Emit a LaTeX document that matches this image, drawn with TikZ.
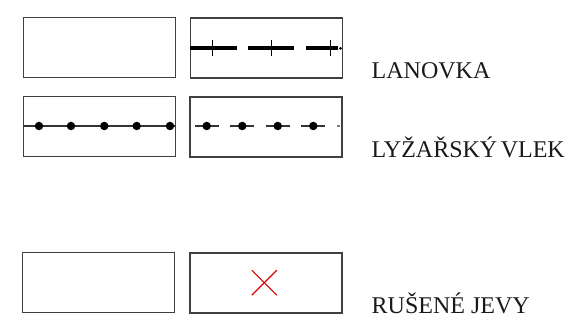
\documentclass[tikz,border=0pt]{standalone}
\usepackage{fontspec}
\setmainfont{Liberation Serif}
\usetikzlibrary{calc}
\begin{document}
\begin{tikzpicture}[x=1pt,y=-1pt,
  legbox/.style={draw=black!75, line width=1.4pt, rectangle, minimum width=152pt, minimum height=60pt, inner sep=0pt, anchor=north west},
  lab/.style={anchor=base west, inner sep=0pt, font=\fontsize{24}{24}\selectfont, text=black!90},
  dot/.style={circle, fill=black, inner sep=0pt, minimum size=8.5pt},
  cablethick/.style={line width=4pt, black},
  tick/.style={line width=1pt, black},
  thinline/.style={line width=1.2pt, black!80},
  cross/.style={draw=red!85!black, line width=1.2pt}]
\useasboundingbox (0,0) rectangle (570,320);
% boxes
\node[legbox] (b1) at (22.7,16.9) {};
\node[legbox] (b2) at (189.5,17.3) {};
\node[legbox] (b3) at (22.7,95.9) {};
\node[legbox] (b4) at (189.3,96.3) {};
\node[legbox] (b5) at (21.7,251.9) {};
\node[legbox] (b6) at (189.2,252.3) {};
% cableway
\coordinate (c1a) at (190,48.3); \coordinate (c1b) at (236.7,48.3);
\coordinate (c2a) at (248,48.3); \coordinate (c2b) at (294,48.3);
\coordinate (c3a) at (306,48.3); \coordinate (c3b) at (338,48.3);
\draw[cablethick] (c1a) -- (c1b);
\draw[cablethick] (c2a) -- (c2b);
\draw[cablethick] (c3a) -- (c3b);
\fill (340.5,48.3) circle (1.5pt);
\foreach \x in {212.7,271,330}{\draw[tick] (\x,40.5) -- (\x,56);}
% ski lift
\draw[thinline] (b3.west |- 0,126) -- (b3.east |- 0,126);
\foreach \x [count=\i] in {39,71,104.3,136.7,170}{\node[dot] (d\i) at (\x,126) {};}
\foreach \x [count=\i] in {206.7,242.3,277.7,313.3}{
  \draw[thinline] (\x-12,126) -- (\x+12,126);
  \node[dot] (e\i) at (\x,126) {};}
\draw[thinline, black!50] (337,126) -- (339.5,126);
% red cross
\coordinate (x) at (264.3,282.7);
\draw[cross] ($(x)+(-12.5,-12.5)$) -- ($(x)+(12.5,12.5)$);
\draw[cross] ($(x)+(-12.5,12.5)$) -- ($(x)+(12.5,-12.5)$);
% labels
\node[lab] (l1) at (371.5,78.3) {LANOVKA};
\node[lab] (l2) at (371.5,157.3) {LYŽAŘSKÝ\hspace{-2.5pt} VLEK};
\node[lab] (l3) at (371.5,313.3) {RUŠENÉ JEVY};
\end{tikzpicture}
\end{document}
